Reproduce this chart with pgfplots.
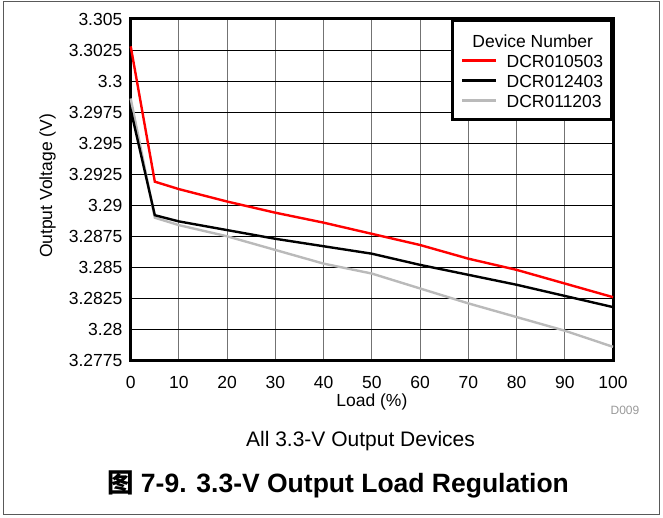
\documentclass[border=0pt]{standalone}
\usepackage{fontspec}
\setmainfont{Liberation Sans}
\newfontfamily\cjk{Noto Sans CJK SC}
\usepackage{pgfplots}
\pgfplotsset{compat=1.18}
\definecolor{lgray}{RGB}{186,186,186}
\newcommand\tickfont{\fontsize{17.5bp}{21bp}\selectfont}

\begin{document}
\begin{tikzpicture}
\path[use as bounding box] (0,0) rectangle (663bp,518bp);
\draw[black!65, line width=1bp] (3.5bp,3bp) rectangle (659.5bp,516bp);

\begin{axis}[
  at={(130.7bp,157.5bp)}, anchor=south west,
  scale only axis, width=482.3bp, height=341.5bp,
  xmin=0, xmax=100, ymin=3.2775, ymax=3.305,
  xtick={0,10,...,100},
  ytick={3.2775,3.28,3.2825,3.285,3.2875,3.29,3.2925,3.295,3.2975,3.3,3.3025,3.305},
  scaled y ticks=false,
  /pgf/number format/assume math mode=true,
  yticklabel style={/pgf/number format/fixed, /pgf/number format/precision=4},
  ticklabel style={font=\tickfont, inner sep=0pt},
  xticklabel style={anchor=base, yshift=-27.8bp},
  yticklabel style={anchor=east, xshift=-8.2bp},
  major tick length=0pt,
  grid=major,
  x grid style={black!55, line width=1bp},
  y grid style={black, line width=0.9bp},
  axis line style={line width=3bp},
  clip=false,
  legend style={at={(rel axis cs:1,1)}, anchor=north east, draw=black,
    line width=3bp, fill=white, inner xsep=8.5bp, inner ysep=5bp,
    row sep=0pt, font=\tickfont,
    nodes={inner sep=0pt, text height=12.5bp, text depth=7.5bp}},
  legend cell align=left,
  legend image code/.code={\draw[#1, line width=3bp] (0bp,4.2bp) -- (34bp,4.2bp); \path (43.3bp,0bp);},
]
\addlegendimage{empty legend}
\addlegendentry[text height=21.7bp]{\hspace*{-34.3bp}Device Number}

\addplot[lgray, line width=2.4bp, forget plot] coordinates {
  (0,3.2986) (5,3.2890) (10,3.2884) (20,3.2875) (30,3.2864) (40,3.2853)
  (50,3.2845) (60,3.2833) (70,3.2821) (80,3.2810) (90,3.2799) (100,3.2786)
};
\addplot[red, line width=2.4bp] coordinates {
  (0,3.3028) (5,3.2919) (10,3.2913) (20,3.2903) (30,3.2894) (40,3.2886)
  (50,3.2877) (60,3.2868) (70,3.2857) (80,3.2848) (90,3.2837) (100,3.2826)
};
\addlegendentry{DCR010503}
\addplot[black, line width=2.4bp] coordinates {
  (0,3.2977) (5,3.2892) (10,3.2887) (20,3.2880) (30,3.2873) (40,3.2867)
  (50,3.2861) (60,3.2852) (70,3.2844) (80,3.2836) (90,3.2827) (100,3.2818)
};
\addlegendentry{DCR012403}
\addlegendimage{lgray, line width=2.4bp}
\addlegendentry{DCR011203}
\end{axis}

\node[anchor=base, inner sep=0pt, font=\tickfont] at (371.9bp,111.3bp) {Load (\%)};
\node[rotate=90, anchor=base, inner sep=0pt, font=\tickfont] at (52bp,332bp) {Output Voltage (V)};
\node[anchor=base east, inner sep=0pt, text=black!40, font=\fontsize{12bp}{14bp}\selectfont] at (639.5bp,103bp) {D009};
\node[anchor=base, inner sep=0pt, font=\fontsize{21bp}{25bp}\selectfont] at (360.5bp,71.3bp) {All 3.3-V Output Devices};
\node[anchor=base, inner sep=0pt, font=\fontsize{26.5bp}{31bp}\selectfont\bfseries] at (338bp,25.3bp) {{\cjk 图} 7-9. 3.3-V Output Load Regulation};
\end{tikzpicture}
\end{document}
